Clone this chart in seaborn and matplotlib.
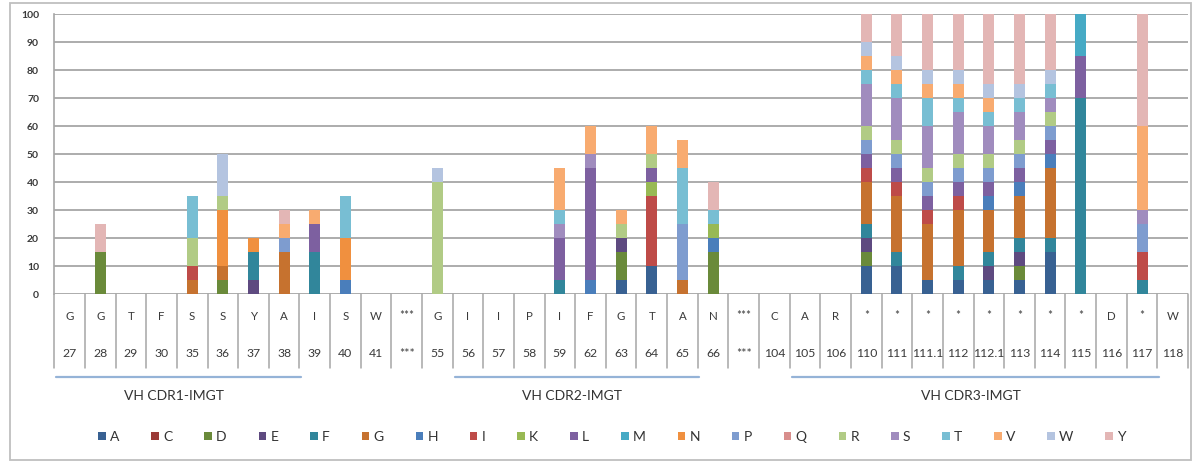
import numpy as np
import pandas as pd
import seaborn as sns
import matplotlib.pyplot as plt
import matplotlib.transforms as mtransforms
from matplotlib.patches import Patch, Rectangle

# IMGT positions (x categories) and germline residue at each position
positions = ["27", "28", "29", "30", "35", "36", "37", "38", "39", "40", "41", "***",
             "55", "56", "57", "58", "59", "62", "63", "64", "65", "66", "***",
             "104", "105", "106", "110", "111", "111.1", "112", "112.1", "113", "114",
             "115", "116", "117", "118"]
residues = ["G", "G", "T", "F", "S", "S", "Y", "A", "I", "S", "W", "***",
            "G", "I", "I", "P", "I", "F", "G", "T", "A", "N", "***",
            "C", "A", "R", "*", "*", "*", "*", "*", "*", "*",
            "*", "D", "*", "W"]

# percentage of each amino acid per position
#        |-------- 27..41 ---------|***|------ 55..66 ------|***|104..106|------------ 110..118 ------------|
A = [0, 0, 0, 0, 0, 0, 0, 0, 0, 0, 0, 0, 0, 0, 0, 0, 0, 0, 5, 10, 0, 0, 0, 0, 0, 0, 10, 10, 5, 5, 5, 5, 15, 0, 0, 0, 0]
C = [0, 0, 0, 0, 0, 0, 0, 0, 0, 0, 0, 0, 0, 0, 0, 0, 0, 0, 0, 0, 0, 0, 0, 0, 0, 0, 0, 0, 0, 0, 0, 0, 0, 0, 0, 0, 0]
D = [0, 15, 0, 0, 0, 5, 0, 0, 0, 0, 0, 0, 0, 0, 0, 0, 0, 0, 10, 0, 0, 15, 0, 0, 0, 0, 5, 0, 0, 0, 0, 5, 0, 0, 0, 0, 0]
E = [0, 0, 0, 0, 0, 0, 5, 0, 0, 0, 0, 0, 0, 0, 0, 0, 0, 0, 5, 0, 0, 0, 0, 0, 0, 0, 5, 0, 0, 0, 5, 5, 0, 0, 0, 0, 0]
F = [0, 0, 0, 0, 0, 0, 10, 0, 15, 0, 0, 0, 0, 0, 0, 0, 5, 0, 0, 0, 0, 0, 0, 0, 0, 0, 5, 5, 0, 5, 5, 5, 5, 70, 0, 5, 0]
G = [0, 0, 0, 0, 5, 5, 0, 15, 0, 0, 0, 0, 0, 0, 0, 0, 0, 0, 0, 0, 5, 0, 0, 0, 0, 0, 15, 20, 20, 20, 15, 15, 25, 0, 0, 0, 0]
H = [0, 0, 0, 0, 0, 0, 0, 0, 0, 5, 0, 0, 0, 0, 0, 0, 0, 5, 0, 0, 0, 5, 0, 0, 0, 0, 0, 0, 0, 0, 5, 5, 5, 0, 0, 0, 0]
I = [0, 0, 0, 0, 5, 0, 0, 0, 0, 0, 0, 0, 0, 0, 0, 0, 0, 0, 0, 25, 0, 0, 0, 0, 0, 0, 5, 5, 5, 5, 0, 0, 0, 0, 0, 10, 0]
K = [0, 0, 0, 0, 0, 0, 0, 0, 0, 0, 0, 0, 0, 0, 0, 0, 0, 0, 0, 5, 0, 5, 0, 0, 0, 0, 0, 0, 0, 0, 0, 0, 0, 0, 0, 0, 0]
L = [0, 0, 0, 0, 0, 0, 0, 0, 10, 0, 0, 0, 0, 0, 0, 0, 15, 40, 0, 5, 0, 0, 0, 0, 0, 0, 5, 5, 5, 5, 5, 5, 5, 15, 0, 0, 0]
M = [0, 0, 0, 0, 0, 0, 0, 0, 0, 0, 0, 0, 0, 0, 0, 0, 0, 0, 0, 0, 0, 0, 0, 0, 0, 0, 0, 0, 0, 0, 0, 0, 0, 15, 0, 0, 0]
N = [0, 0, 0, 0, 0, 20, 5, 0, 0, 15, 0, 0, 0, 0, 0, 0, 0, 0, 0, 0, 0, 0, 0, 0, 0, 0, 0, 0, 0, 0, 0, 0, 0, 0, 0, 0, 0]
P = [0, 0, 0, 0, 0, 0, 0, 5, 0, 0, 0, 0, 0, 0, 0, 0, 0, 0, 0, 0, 20, 0, 0, 0, 0, 0, 5, 5, 5, 5, 5, 5, 5, 0, 0, 10, 0]
Q = [0, 0, 0, 0, 0, 0, 0, 0, 0, 0, 0, 0, 0, 0, 0, 0, 0, 0, 0, 0, 0, 0, 0, 0, 0, 0, 0, 0, 0, 0, 0, 0, 0, 0, 0, 0, 0]
R = [0, 0, 0, 0, 10, 5, 0, 0, 0, 0, 0, 0, 40, 0, 0, 0, 0, 0, 5, 5, 0, 0, 0, 0, 0, 0, 5, 5, 5, 5, 5, 5, 5, 0, 0, 0, 0]
S = [0, 0, 0, 0, 0, 0, 0, 0, 0, 0, 0, 0, 0, 0, 0, 0, 5, 5, 0, 0, 0, 0, 0, 0, 0, 0, 15, 15, 15, 15, 10, 10, 5, 0, 0, 5, 0]
T = [0, 0, 0, 0, 15, 0, 0, 0, 0, 15, 0, 0, 0, 0, 0, 0, 5, 0, 0, 0, 20, 5, 0, 0, 0, 0, 5, 5, 10, 5, 5, 5, 5, 0, 0, 0, 0]
V = [0, 0, 0, 0, 0, 0, 0, 5, 5, 0, 0, 0, 0, 0, 0, 0, 15, 10, 5, 10, 10, 0, 0, 0, 0, 0, 5, 5, 5, 5, 5, 0, 0, 0, 0, 30, 0]
W = [0, 0, 0, 0, 0, 15, 0, 0, 0, 0, 0, 0, 5, 0, 0, 0, 0, 0, 0, 0, 0, 0, 0, 0, 0, 0, 5, 5, 5, 5, 5, 5, 5, 0, 0, 0, 0]
Y = [0, 10, 0, 0, 0, 0, 0, 5, 0, 0, 0, 0, 0, 0, 0, 0, 0, 0, 0, 0, 0, 10, 0, 0, 0, 0, 10, 15, 20, 20, 25, 25, 20, 0, 0, 40, 0]

amino_acids = ["A", "C", "D", "E", "F", "G", "H", "I", "K", "L",
               "M", "N", "P", "Q", "R", "S", "T", "V", "W", "Y"]
series = [A, C, D, E, F, G, H, I, K, L, M, N, P, Q, R, S, T, V, W, Y]
colors = ["#386192", "#9B3A37", "#6A8A3A", "#5E4A80", "#31869B", "#C6722F",
          "#4A7EBB", "#BE4B48", "#98B954", "#7D60A0", "#46AAC5", "#F0903F",
          "#7E9CCF", "#D88E8C", "#B1CB85", "#A08CBE", "#78BED3", "#F8AB70",
          "#B4C4E0", "#E3B6B5"]

# CDR regions: label, first and last position covered by the underline
cdr_groups = [("VH CDR1-IMGT", "27", "38"),
              ("VH CDR2-IMGT", "56", "65"),
              ("VH CDR3-IMGT", "105", "117")]

sns.set_style("white")
plt.rcParams["font.family"] = ["Lato", "DejaVu Sans"]

W_PX, H_PX = 1198, 463
fig = plt.figure(figsize=(W_PX / 100, H_PX / 100), dpi=100)
ax = fig.add_axes([54.3 / W_PX, 1 - 294.3 / H_PX, (1188 - 54.3) / W_PX, 280 / H_PX])

idx = np.arange(len(positions))
bottom = np.zeros(len(positions))
for aa, vals, col in zip(amino_acids, series, colors):
    vals = np.asarray(vals, dtype=float)
    sns.barplot(x=idx, y=vals, bottom=bottom, color=col, width=0.36,
                saturation=1, errorbar=None, linewidth=0, ax=ax)
    bottom = bottom + vals

grid_col = "#A6A6A6"
txt_col = "#3A3A3A"
ax.set_xlim(-0.5, len(positions) - 0.5)
ax.set_ylim(0, 100)
ax.set_yticks(np.arange(0, 101, 10))
ax.set_xticks([])
ax.set_xlabel("")
ax.set_ylabel("")
ax.yaxis.grid(True, color=grid_col, lw=1.3)
ax.set_axisbelow(True)
for side in ["top", "right", "bottom"]:
    ax.spines[side].set_visible(False)
ax.spines["left"].set_color(grid_col)
ax.spines["left"].set_linewidth(1.2)
ax.tick_params(axis="y", length=4, width=1.2, color=grid_col, pad=7,
               labelsize=7.5, labelcolor=txt_col)
for lbl in ax.get_yticklabels():
    lbl.set_fontweight("bold")

# category table below the axis
trans = mtransforms.blended_transform_factory(ax.transData, ax.transAxes)
for b in np.arange(len(positions) + 1) - 0.5:
    ax.plot([b, b], [0, -0.263], color=grid_col, lw=1.1, transform=trans, clip_on=False)
for i, (p, r) in enumerate(zip(positions, residues)):
    ax.text(i, -0.0775, r, ha="center", va="center", fontsize=8.3,
            color=txt_col, transform=trans)
    ax.text(i, -0.21, p, ha="center", va="center", fontsize=8.8,
            color=txt_col, transform=trans)

# CDR underlines and labels
for label, first, last in cdr_groups:
    i0, i1 = positions.index(first), positions.index(last)
    x0, x1 = i0 - 0.43, i1 + 0.55
    ax.plot([x0, x1], [-0.295, -0.295], color="#95B3D7", lw=1.6,
            transform=trans, clip_on=False)
    ax.text((x0 + x1) / 2 - 0.15, -0.363, label, ha="center", va="center",
            fontsize=10, color="#333333", transform=trans)

handles = [Patch(facecolor=c, edgecolor="none") for c in colors]
fig.legend(handles, amino_acids, loc="center", bbox_to_anchor=(612 / W_PX, 1 - 437 / H_PX),
           ncol=len(amino_acids), frameon=False, fontsize=10, handlelength=0.55,
           handleheight=0.55, handletextpad=0.3, columnspacing=2.3,
           labelcolor="#333333")

fig.patches.append(Rectangle((10 / W_PX, 1 - 460 / H_PX), 1181 / W_PX, 457 / H_PX,
                             fill=False, edgecolor="#BFBFBF", lw=1.3,
                             transform=fig.transFigure, figure=fig))

fig.savefig("out.png", dpi=100)
plt.close(fig)
